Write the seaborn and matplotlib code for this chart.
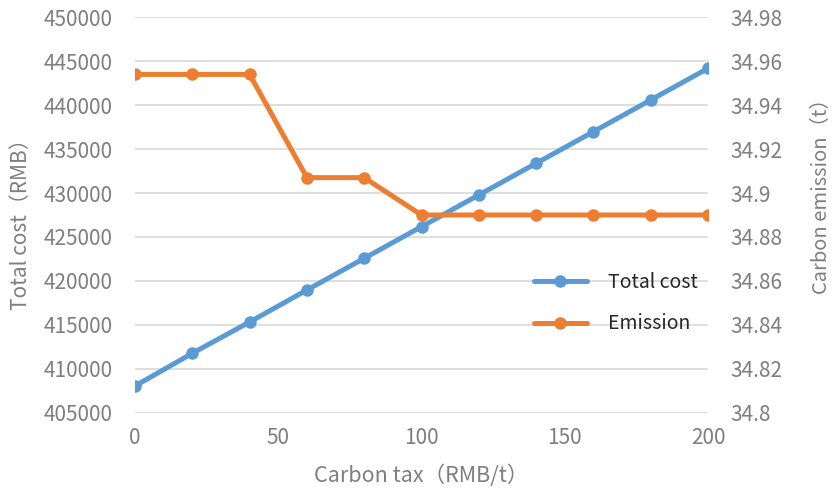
import matplotlib
matplotlib.use("Agg")
import matplotlib.pyplot as plt
import seaborn as sns
import pandas as pd
from matplotlib.ticker import FuncFormatter, MultipleLocator

# data
carbon_tax = [0, 20, 40, 60, 80, 100, 120, 140, 160, 180, 200]
total_cost = [408040, 411760, 415320, 418960, 422570, 426170,
              429780, 433380, 436980, 440590, 444190]
emission = [34.954, 34.954, 34.954, 34.907, 34.907, 34.890,
            34.890, 34.890, 34.890, 34.890, 34.890]

df = pd.DataFrame({"tax": carbon_tax, "cost": total_cost, "emission": emission})

sns.set_theme(style="white")
plt.rcParams['font.family'] = ['Noto Sans CJK SC', 'DejaVu Sans']

blue = "#5B9BD5"
orange = "#ED7D31"
gray = "#7F7F7F"

fig = plt.figure(figsize=(8.37, 4.9), dpi=100)
ax = fig.add_axes([0.1613, 0.1578, 0.6846, 0.8069])
ax2 = ax.twinx()

sns.lineplot(data=df, x="tax", y="cost", ax=ax, color=blue, marker="o",
             linewidth=3.6, markersize=9, markeredgewidth=0, label="Total cost",
             legend=False)
sns.lineplot(data=df, x="tax", y="emission", ax=ax2, color=orange, marker="o",
             linewidth=3.6, markersize=9, markeredgewidth=0, label="Emission",
             legend=False)

ax.set_xlim(0, 200)
ax.set_ylim(405000, 450000)
ax2.set_ylim(34.8, 34.98)
ax.xaxis.set_major_locator(MultipleLocator(50))
ax.yaxis.set_major_locator(MultipleLocator(5000))
ax2.yaxis.set_major_locator(MultipleLocator(0.02))
ax2.yaxis.set_major_formatter(FuncFormatter(lambda v, p: "%g" % round(v, 2)))

ax.yaxis.grid(True, color="#D9D9D9", linewidth=1.2)
ax.xaxis.grid(False)
ax2.grid(False)

for a in (ax, ax2):
    for s in a.spines.values():
        s.set_visible(False)
    a.tick_params(length=0, labelsize=15, colors=gray)
ax.tick_params(axis="y", pad=16)
ax.tick_params(axis="x", pad=10)
ax2.tick_params(axis="y", pad=16)

ax.set_xlabel("Carbon tax（RMB/t）", fontsize=15.5, color=gray)
ax.set_ylabel("Total cost（RMB）", fontsize=15, color=gray)
ax2.set_ylabel("Carbon emission（t）", fontsize=14.5, color=gray)
ax.xaxis.set_label_coords(0.5, -0.13)
ax.yaxis.set_label_coords(-0.18, 0.49)
ax2.yaxis.set_label_coords(1.18, 0.56)

h1, l1 = ax.get_legend_handles_labels()
h2, l2 = ax2.get_legend_handles_labels()
leg = ax2.legend(h1 + h2, l1 + l2, loc="upper left", bbox_to_anchor=(0.666, 0.4),
                 frameon=False, fontsize=14, handlelength=2.7, labelspacing=1.05,
                 handletextpad=1.1)
for t in leg.get_texts():
    t.set_color("#262626")

fig.savefig("out.png", dpi=100)
